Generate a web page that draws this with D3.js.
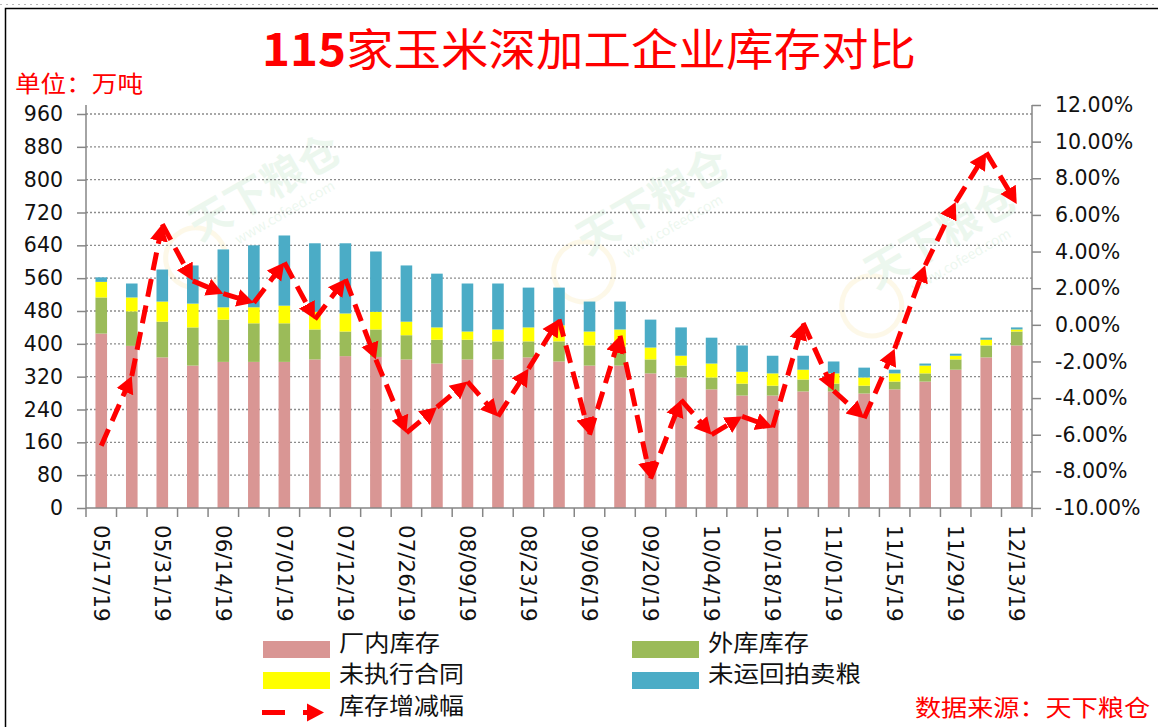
<!DOCTYPE html>
<html>
<head>
<meta charset="utf-8">
<script src="https://cdn.jsdelivr.net/npm/d3@7"></script>
<style>
body{margin:0;background:#fff;}
svg{display:block;}
</style>
</head>
<body>
<div id="chart"></div>
<script>
// Datas (semanais), so as pares levam rotulo
var dates = ["05/17/19","05/24/19","05/31/19","06/06/19","06/14/19","06/21/19","07/01/19","07/05/19",
	"07/12/19","07/19/19","07/26/19","08/02/19","08/09/19","08/16/19","08/23/19","08/30/19",
	"09/06/19","09/12/19","09/20/19","09/27/19","10/04/19","10/11/19","10/18/19","10/25/19",
	"11/01/19","11/08/19","11/15/19","11/22/19","11/29/19","12/06/19","12/13/19"];

// Series (万吨)
var factory    = [425,395,367,347,356,356,356,362,370,368,362,352,362,362,367,357,347,347,328,318,289,274,274,284,284,279,289,308,337,367,396];
var outside    = [88,84,87,93,103,94,94,73,60,67,59,58,48,44,39,49,49,46,34,29,29,29,24,29,19,19,19,20,25,29,34];
var unexecuted = [38,34,49,58,30,39,43,43,44,43,33,30,20,29,34,39,34,42,29,24,34,29,30,24,25,20,20,19,9,14,5];
var auction    = [11,34,78,93,141,151,171,167,171,147,137,131,117,112,97,92,73,68,68,69,63,64,43,34,29,24,9,5,5,5,5];

// Variacao do estoque (%)
var change = [-6.6,-2.8,5.5,2.4,1.7,1.2,3.4,0.3,2.5,-1.9,-5.9,-4.5,-3.1,-5.0,-2.4,0.3,-6.0,-0.6,-8.4,-4.1,
	-6.0,-5.0,-5.6,0.1,-3.6,-5.1,-1.3,3.25,6.7,9.4,6.6];

// Ticks
var leftTicks = [0,80,160,240,320,400,480,560,640,720,800,880,960];
var rightTicks = [-10,-8,-6,-4,-2,0,2,4,6,8,10,12];
var xTickLabels = dates.filter(function(d,i){ return i % 2 == 0; });

var seriesNames = ["厂内库存","外库库存","未执行合同","未运回拍卖粮"];
var seriesColors = ["#D99694","#9BBB59","#FFFF00","#4BACC6"];
var lineName = "库存增减幅";

var w = 1158, h = 727;
var left = 86, right = 1032, bottom = 508;

var svg = d3.select("#chart").append("svg")
	.attr("width", w)
	.attr("height", h)
	.style("font-family", "'Noto Sans CJK SC', 'Noto Sans', sans-serif");

// Moldura
svg.append("line")
	.attr("x1", 0).attr("x2", w).attr("y1", 4.5).attr("y2", 4.5)
	.style("stroke", "#bbb").style("stroke-dasharray", "2,4");
svg.append("rect")
	.attr("x", 5.5).attr("y", 8.5).attr("width", w + 20).attr("height", h + 20)
	.attr("fill", "none").attr("stroke", "#000").attr("stroke-width", 1.5);

// Escalas
var x = d3.scaleBand().domain(dates).range([left, right]);
var y = d3.scaleLinear().domain([0, 960]).range([bottom, 114]);
var y2 = d3.scaleLinear().domain([-10, 12]).range([bottom, 105]);
var barW = x.bandwidth() * 0.38;
var cx = function(d){ return x(d) + x.bandwidth() / 2; };

// Marca d'agua
var marks = [[272,200],[660,214],[948,248]];
marks.forEach(function(m){
	var g = svg.append("g").attr("transform", "translate(" + m[0] + "," + m[1] + ") rotate(-30)")
		.style("opacity", 0.12);
	g.append("circle").attr("cx", -95).attr("cy", 12).attr("r", 30)
		.attr("fill", "none").attr("stroke", "#f2c94c").attr("stroke-width", 5);
	g.append("text").attr("x", 0).attr("y", 0).attr("text-anchor", "middle")
		.attr("font-size", 42).attr("font-weight", "bold").attr("fill", "#6abf7b").text("天下粮仓");
	g.append("text").attr("x", 5).attr("y", 22).attr("text-anchor", "middle")
		.attr("font-size", 14).attr("fill", "#6abf7b").text("www.cofeed.com");
});

// Grade
svg.selectAll(".grid")
	.data(leftTicks.slice(1))
	.enter()
	.append("line")
	.attr("x1", left).attr("x2", right)
	.attr("y1", function(d){ return y(d); })
	.attr("y2", function(d){ return y(d); })
	.style("stroke", "#8c8c8c")
	.style("stroke-width", 1.3)
	.style("stroke-dasharray", "2,2");

// Barras empilhadas
var table = dates.map(function(d,i){
	return {date: d, s0: factory[i], s1: outside[i], s2: unexecuted[i], s3: auction[i]};
});
var stacked = d3.stack().keys(["s0","s1","s2","s3"])(table);

svg.selectAll(".layer")
	.data(stacked)
	.enter()
	.append("g")
	.attr("fill", function(d,i){ return seriesColors[i]; })
	.selectAll("rect")
	.data(function(d){ return d; })
	.enter()
	.append("rect")
	.attr("x", function(d){ return cx(d.data.date) - barW / 2; })
	.attr("width", barW)
	.attr("y", function(d){ return y(d[1]); })
	.attr("height", function(d){ return y(d[0]) - y(d[1]); });

// Eixos
var axisColor = "#868686";
var yAxis = d3.axisLeft(y).tickValues(leftTicks).tickSize(9).tickSizeOuter(0).tickPadding(14);
var gy = svg.append("g").attr("transform", "translate(" + left + ",0)").call(yAxis);
var y2Axis = d3.axisRight(y2).tickValues(rightTicks).tickSize(9).tickSizeOuter(0).tickPadding(14)
	.tickFormat(function(d){ return d.toFixed(2) + "%"; });
var gy2 = svg.append("g").attr("transform", "translate(" + right + ",0)").call(y2Axis);

[gy, gy2].forEach(function(g){
	g.select(".domain").remove();
	g.selectAll("line").style("stroke", axisColor).style("stroke-width", 1.5);
	g.selectAll("text").attr("font-family", "'DejaVu Sans', sans-serif")
		.attr("font-size", 20.5).attr("fill", "#111");
});
svg.append("line").attr("x1", left).attr("x2", left).attr("y1", 105).attr("y2", bottom)
	.style("stroke", axisColor).style("stroke-width", 1.5);
svg.append("line").attr("x1", right).attr("x2", right).attr("y1", 105).attr("y2", bottom)
	.style("stroke", axisColor).style("stroke-width", 1.5);

// Eixo x
svg.append("line").attr("x1", left).attr("x2", right).attr("y1", bottom).attr("y2", bottom)
	.style("stroke", axisColor).style("stroke-width", 1.5);
svg.selectAll(".xtick")
	.data(dates.concat([null]))
	.enter()
	.append("line")
	.attr("x1", function(d,i){ return left + i * x.step(); })
	.attr("x2", function(d,i){ return left + i * x.step(); })
	.attr("y1", bottom).attr("y2", bottom + 9)
	.style("stroke", axisColor).style("stroke-width", 1.5);

var xAxis = d3.axisBottom(x).tickValues(xTickLabels).tickSize(0);
var gx = svg.append("g").attr("transform", "translate(0," + bottom + ")").call(xAxis);
gx.select(".domain").remove();
gx.selectAll("text")
	.attr("transform", "rotate(90)")
	.attr("x", 17).attr("y", 0).attr("dy", "0.36em")
	.attr("text-anchor", "start")
	.attr("font-family", "'DejaVu Sans', sans-serif")
	.attr("font-size", 21.5).attr("fill", "#111");

// Seta
var defs = svg.append("defs");
defs.append("marker")
	.attr("id", "arrow")
	.attr("viewBox", "0 -10 20 20")
	.attr("refX", 7).attr("refY", 0)
	.attr("markerUnits", "userSpaceOnUse")
	.attr("markerWidth", 20).attr("markerHeight", 20)
	.attr("orient", "auto")
	.append("path")
	.attr("d", "M0,-9L17,0L0,9Z")
	.attr("fill", "#FF0000");

// Linha de variacao, um segmento por intervalo
var pts = dates.map(function(d,i){ return [cx(d), y2(change[i])]; });
var segs = d3.pairs(pts);
svg.selectAll(".seg")
	.data(segs)
	.enter()
	.append("path")
	.attr("d", function(s){
		var dx = s[1][0] - s[0][0], dy = s[1][1] - s[0][1];
		var len = Math.sqrt(dx*dx + dy*dy);
		var ex = s[1][0] - dx / len * 10, ey = s[1][1] - dy / len * 10;
		return "M" + s[0][0] + "," + s[0][1] + "L" + ex + "," + ey;
	})
	.attr("fill", "none")
	.attr("stroke", "#FF0000")
	.attr("stroke-width", 5)
	.attr("stroke-dasharray", "18,9")
	.attr("marker-end", "url(#arrow)");

// Titulo
var title = svg.append("text")
	.attr("x", 262).attr("y", 66)
	.attr("textLength", 654).attr("lengthAdjust", "spacingAndGlyphs")
	.attr("font-size", 44).attr("fill", "#FF0000");
title.append("tspan").attr("font-weight", "bold").text("115");
title.append("tspan").attr("font-weight", "normal").text("家玉米深加工企业库存对比");

svg.append("text")
	.attr("x", 15).attr("y", 92)
	.attr("textLength", 128).attr("lengthAdjust", "spacingAndGlyphs")
	.attr("font-size", 23).attr("fill", "#FF0000")
	.text("单位：万吨");

// Legenda
var legend = [
	{name: seriesNames[0], color: seriesColors[0], x: 263, y: 641, tw: 101},
	{name: seriesNames[1], color: seriesColors[1], x: 632, y: 641, tw: 101},
	{name: seriesNames[2], color: seriesColors[2], x: 263, y: 672, tw: 125},
	{name: seriesNames[3], color: seriesColors[3], x: 632, y: 672, tw: 153}
];
legend.forEach(function(l){
	svg.append("rect").attr("x", l.x).attr("y", l.y).attr("width", 67).attr("height", 17).attr("fill", l.color);
	svg.append("text").attr("x", l.x + 76).attr("y", l.y + 10)
		.attr("textLength", l.tw).attr("lengthAdjust", "spacingAndGlyphs")
		.attr("font-size", 23).attr("fill", "#111").text(l.name);
});
svg.append("line").attr("x1", 262).attr("x2", 285).attr("y1", 712.5).attr("y2", 712.5)
	.attr("stroke", "#FF0000").attr("stroke-width", 5);
svg.append("line").attr("x1", 303).attr("x2", 314).attr("y1", 712.5).attr("y2", 712.5)
	.attr("stroke", "#FF0000").attr("stroke-width", 5)
	.attr("marker-end", "url(#arrow)");
svg.append("text").attr("x", 339).attr("y", 714)
	.attr("textLength", 125).attr("lengthAdjust", "spacingAndGlyphs")
	.attr("font-size", 23).attr("fill", "#111").text(lineName);

svg.append("text").attr("x", 915).attr("y", 716)
	.attr("textLength", 235).attr("lengthAdjust", "spacingAndGlyphs")
	.attr("font-size", 23).attr("fill", "#FF0000").text("数据来源：天下粮仓");
</script>
</body>
</html>
